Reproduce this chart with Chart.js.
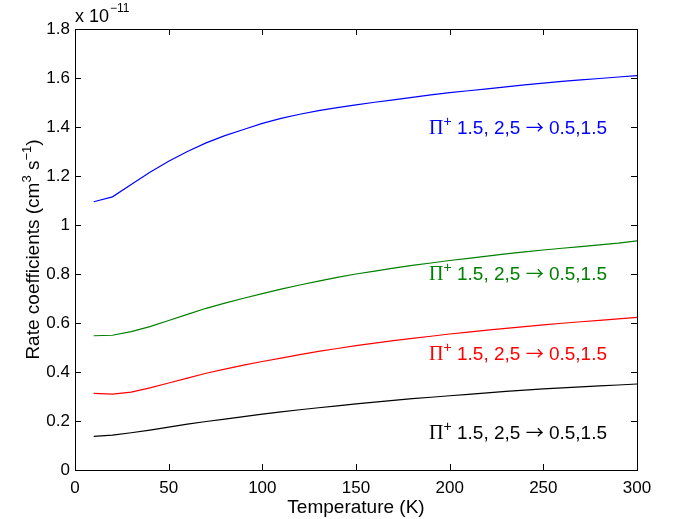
<!DOCTYPE html>
<html>
<head>
<meta charset="utf-8">
<script src="https://cdn.jsdelivr.net/npm/chart.js@4.4.0/dist/chart.umd.min.js"></script>
<style>
  html, body { margin: 0; padding: 0; background: #fff; }
  #wrap { width: 673px; height: 519px; }
</style>
</head>
<body>
<div id="wrap"><canvas id="myChart" width="673" height="519"></canvas></div>
<script>
// temperatura (K)
const temps = [10, 20, 30, 40, 50, 60, 70, 80, 90, 100, 110, 120, 130, 140, 150,
  160, 170, 180, 190, 200, 210, 220, 230, 240, 250, 260, 270, 280, 290, 300];

// coeficientes (x 1e-11 cm^3 s^-1)
const azul = [1.095, 1.115, 1.165, 1.215, 1.26, 1.30, 1.335, 1.365, 1.39, 1.415,
  1.435, 1.452, 1.467, 1.479, 1.49, 1.501, 1.511, 1.521, 1.531, 1.54,
  1.548, 1.556, 1.564, 1.572, 1.579, 1.586, 1.592, 1.598, 1.604, 1.61];
const verde = [0.548, 0.55, 0.565, 0.585, 0.61, 0.635, 0.66, 0.681, 0.701, 0.72,
  0.738, 0.755, 0.771, 0.786, 0.80, 0.812, 0.824, 0.835, 0.845, 0.855,
  0.864, 0.873, 0.882, 0.89, 0.898, 0.905, 0.912, 0.919, 0.926, 0.935];
const vermelho = [0.313, 0.31, 0.318, 0.335, 0.355, 0.375, 0.395, 0.412, 0.428, 0.443,
  0.457, 0.471, 0.484, 0.496, 0.508, 0.518, 0.528, 0.537, 0.546, 0.555,
  0.563, 0.571, 0.578, 0.585, 0.592, 0.599, 0.605, 0.611, 0.617, 0.623];
const preto = [0.137, 0.142, 0.152, 0.163, 0.175, 0.187, 0.198, 0.208, 0.218, 0.228,
  0.237, 0.246, 0.254, 0.262, 0.27, 0.277, 0.284, 0.291, 0.297, 0.303,
  0.309, 0.315, 0.321, 0.326, 0.331, 0.335, 0.339, 0.343, 0.347, 0.351];

// rótulos das curvas: [x, y] em coordenadas de dados
const rotulos = [
  { x: 284, y: 1.40, cor: 'rgb(0,0,255)' },
  { x: 284, y: 0.803, cor: 'rgb(0,128,0)' },
  { x: 284, y: 0.478, cor: 'rgb(255,0,0)' },
  { x: 284, y: 0.155, cor: 'rgb(0,0,0)' }
];

const fonte = '"Liberation Sans", Arial, Helvetica, sans-serif';
const serif = '"Liberation Serif", "Times New Roman", serif';

// pedaços do rótulo: texto, fonte, deslocamento vertical
const partesRotulo = [
  { t: '\u03A0', f: '20px ' + serif, dy: 0 },
  { t: '+', f: '14px ' + fonte, dy: -8 },
  { t: ' 1.5, 2,5 ', f: '19px ' + fonte, dy: 0 },
  { t: '\u2192', f: '18px "Noto Sans CJK JP", "DejaVu Sans", sans-serif', dy: 0 },
  { t: ' 0.5,1.5', f: '19px ' + fonte, dy: 0 }
];

function serie(valores) {
  return temps.map((t, i) => ({ x: t, y: valores[i] }));
}

function textoComposto(c, partes, x, y) {
  let total = 0;
  partes.forEach(p => { c.font = p.f; p.w = c.measureText(p.t).width; total += p.w; });
  let xx = x - total;
  partes.forEach(p => {
    c.font = p.f;
    c.fillText(p.t, xx, y + p.dy);
    xx += p.w;
  });
  return total;
}

const moldura = {
  id: 'moldura',
  afterDraw(chart) {
    const c = chart.ctx;
    const a = chart.chartArea;
    const sx = chart.scales.x, sy = chart.scales.y;
    c.save();
    c.strokeStyle = '#000';
    c.lineWidth = 1;
    c.strokeRect(Math.round(a.left) + 0.5, Math.round(a.top) + 0.5,
      Math.round(a.right - a.left), Math.round(a.bottom - a.top));
    const tl = 6;
    sx.ticks.forEach(t => {
      const px = Math.round(sx.getPixelForValue(t.value)) + 0.5;
      c.beginPath();
      c.moveTo(px, a.bottom); c.lineTo(px, a.bottom - tl);
      c.moveTo(px, a.top); c.lineTo(px, a.top + tl);
      c.stroke();
    });
    sy.ticks.forEach(t => {
      const py = Math.round(sy.getPixelForValue(t.value)) + 0.5;
      c.beginPath();
      c.moveTo(a.left, py); c.lineTo(a.left + tl, py);
      c.moveTo(a.right, py); c.lineTo(a.right - tl, py);
      c.stroke();
    });

    // rótulos das curvas
    c.textAlign = 'left';
    c.textBaseline = 'alphabetic';
    rotulos.forEach(r => {
      c.fillStyle = r.cor;
      textoComposto(c, partesRotulo, sx.getPixelForValue(r.x), sy.getPixelForValue(r.y) + 7);
    });

    // expoente no topo
    c.fillStyle = '#000';
    c.font = '18px ' + fonte;
    c.fillText('x 10', a.left, a.top - 7);
    const wx = c.measureText('x 10').width;
    c.font = '12px ' + fonte;
    c.fillText('\u221211', a.left + wx + 1, a.top - 17);

    // título do eixo y
    c.translate(39, (a.top + a.bottom) / 2);
    c.rotate(-Math.PI / 2);
    const partes = [
      { t: 'Rate coefficients (cm', f: '19px ' + fonte, dy: 0 },
      { t: '3', f: '13px ' + fonte, dy: -8 },
      { t: ' s', f: '19px ' + fonte, dy: 0 },
      { t: '\u22121', f: '13px ' + fonte, dy: -8 },
      { t: ')', f: '19px ' + fonte, dy: 0 }
    ];
    let total = 0;
    partes.forEach(p => { c.font = p.f; total += c.measureText(p.t).width; });
    textoComposto(c, partes, total / 2, 0);
    c.restore();
  }
};

const ctx = document.getElementById('myChart').getContext('2d');

const grafico = new Chart(ctx, {
  type: 'line',
  data: {
    datasets: [
      { data: serie(azul), borderColor: 'rgb(0,0,255)' },
      { data: serie(verde), borderColor: 'rgb(0,128,0)' },
      { data: serie(vermelho), borderColor: 'rgb(255,0,0)' },
      { data: serie(preto), borderColor: 'rgb(0,0,0)' }
    ].map(d => Object.assign(d, { borderWidth: 1.2, pointRadius: 0, tension: 0, fill: false }))
  },
  options: {
    responsive: false,
    animation: false,
    layout: { padding: { top: 29, right: 36, left: 0, bottom: 0 } },
    plugins: { legend: { display: false }, tooltip: { enabled: false } },
    scales: {
      x: {
        type: 'linear', min: 0, max: 300,
        grid: { display: false, drawTicks: false },
        border: { display: false },
        ticks: { stepSize: 50, color: '#000', font: { family: fonte, size: 17 }, padding: 8, maxRotation: 0 },
        title: { display: true, text: 'Temperature (K)', color: '#000', font: { family: fonte, size: 19 }, padding: 0 },
        afterFit(s) { s.height = 49; }
      },
      y: {
        type: 'linear', min: 0, max: 1.8,
        grid: { display: false, drawTicks: false },
        border: { display: false },
        ticks: {
          stepSize: 0.2, color: '#000', font: { family: fonte, size: 17 }, padding: 5,
          callback: v => String(Number(v.toFixed(1)))
        },
        afterFit(s) { s.width = 75; }
      }
    }
  },
  plugins: [moldura]
});
</script>
</body>
</html>
